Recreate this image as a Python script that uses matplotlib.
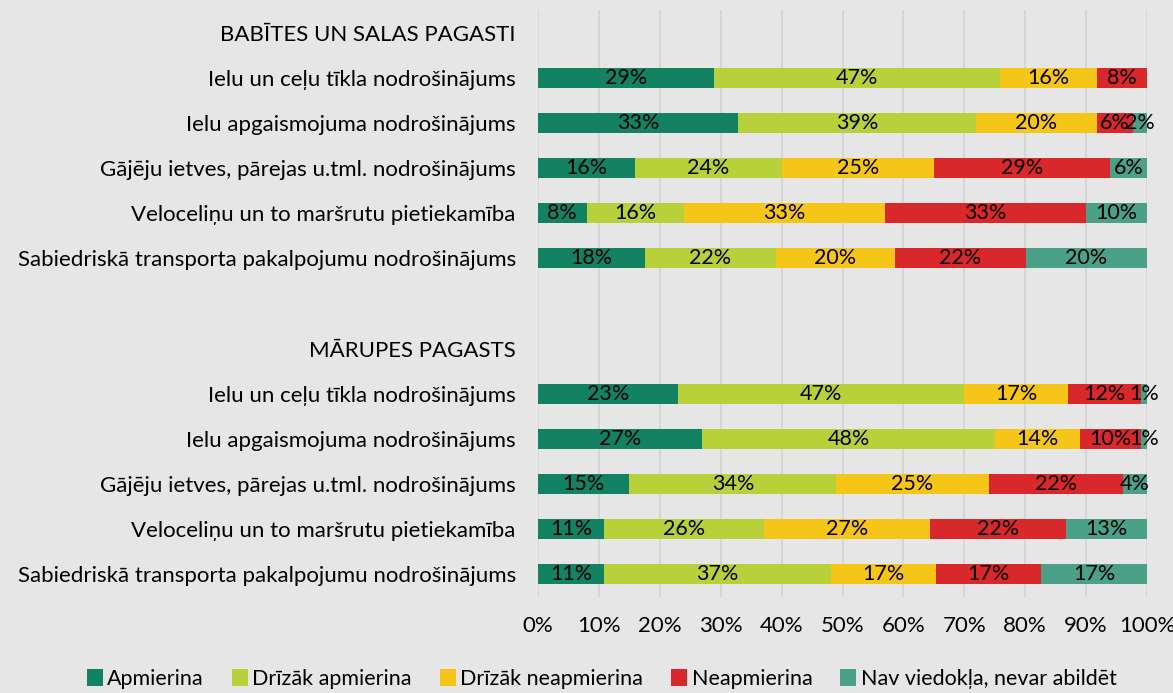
import matplotlib.pyplot as plt
import numpy as np

# categories, top to bottom (headers and an empty spacer row have no bars)
categories = [
    "BABĪTES UN SALAS PAGASTI",
    "Ielu un ceļu tīkla nodrošinājums",
    "Ielu apgaismojuma nodrošinājums",
    "Gājēju ietves, pārejas u.tml. nodrošinājums",
    "Veloceliņu un to maršrutu pietiekamība",
    "Sabiedriskā transporta pakalpojumu nodrošinājums",
    "",
    "MĀRUPES PAGASTS",
    "Ielu un ceļu tīkla nodrošinājums",
    "Ielu apgaismojuma nodrošinājums",
    "Gājēju ietves, pārejas u.tml. nodrošinājums",
    "Veloceliņu un to maršrutu pietiekamība",
    "Sabiedriskā transporta pakalpojumu nodrošinājums",
]

series = ["Apmierina", "Drīzāk apmierina", "Drīzāk neapmierina", "Neapmierina",
          "Nav viedokļa, nevar abildēt"]

# shares in %, None for header / spacer rows
apmierina = [None, 28.9, 32.8, 16, 8, 17.5, None, None, 23, 27, 15, 10.8, 10.8]
drizak_apm = [None, 47, 39.1, 24, 16, 21.6, None, None, 47, 48, 34, 26.3, 37.3]
drizak_neapm = [None, 15.9, 19.9, 25, 33, 19.5, None, None, 17, 14, 25, 27.3, 17.3]
neapmierina = [None, 8.2, 5.9, 29, 33, 21.5, None, None, 12, 10, 22, 22.3, 17.2]
nav_viedokla = [None, 0, 2.3, 6, 10, 19.9, None, None, 1, 1, 4, 13.3, 17.4]

colors = ["#128263", "#b8d03a", "#f5c518", "#d9282c", "#4ba088"]

plt.rcParams['font.family'] = ['Lato', 'DejaVu Sans']

fig, ax = plt.subplots(figsize=(11.73, 6.93), dpi=100)
fig.patch.set_facecolor('#e6e6e6')
ax.set_facecolor('#e6e6e6')
fig.subplots_adjust(left=538/1173, right=1147/1173, top=1-10/693, bottom=1-597/693)

y = np.arange(len(categories))
left = np.zeros(len(categories))
for name, vals, col in zip(series, [apmierina, drizak_apm, drizak_neapm, neapmierina, nav_viedokla], colors):
    v = np.array([0 if x is None else x for x in vals], dtype=float)
    ax.barh(y, v, left=left, height=0.44, color=col, label=name, zorder=2)
    for yi, (l, w) in enumerate(zip(left, v)):
        if w > 0:
            ax.text(l + w / 2, yi, "%.0f%%" % w, ha='center', va='center',
                    fontsize=15.5, color='black', zorder=3)
    left += v

ax.set_ylim(len(categories) - 0.5, -0.5)
ax.set_xlim(0, 100)
ax.set_yticks(y)
ax.set_yticklabels(categories, fontsize=16)
ax.set_xticks(np.arange(0, 101, 10))
ax.set_xticklabels(["%d%%" % t for t in range(0, 101, 10)], fontsize=16)
ax.tick_params(length=0)
ax.tick_params(axis='y', pad=16)
ax.tick_params(axis='x', pad=14)
ax.grid(axis='x', color='#d3d3d3', linewidth=1.2, zorder=0)
for s in ax.spines.values():
    s.set_visible(False)

handles, labels = ax.get_legend_handles_labels()
fig.legend(handles, labels, loc='lower center', bbox_to_anchor=(0.513, -0.022),
           ncol=5, frameon=False, fontsize=15.5, handlelength=0.75, handleheight=0.8,
           handletextpad=0.2, columnspacing=1.3)

plt.savefig('out.png', dpi=100, facecolor=fig.get_facecolor())
